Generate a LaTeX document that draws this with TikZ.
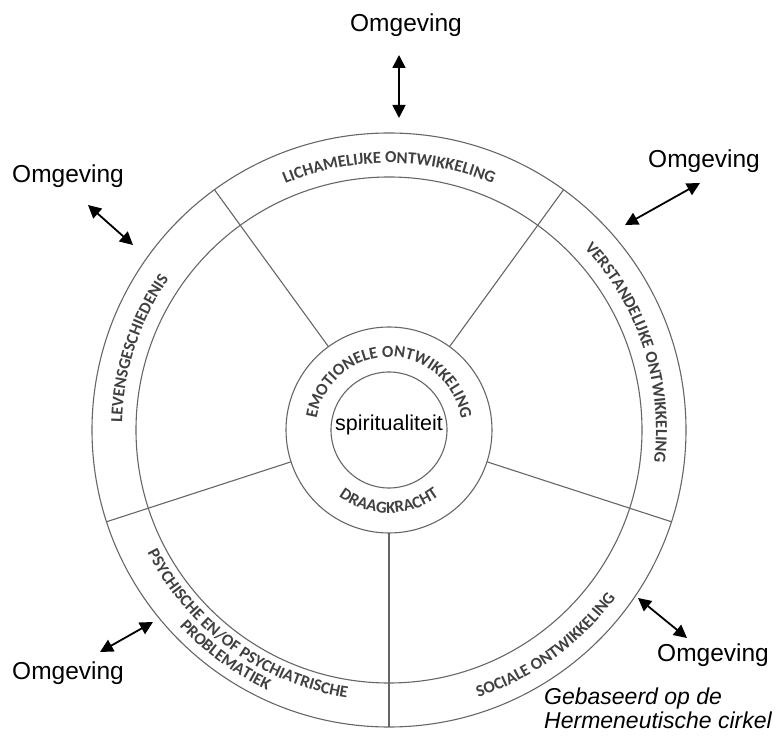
\documentclass[tikz,border=0pt]{standalone}
\usepackage{fontspec}
\setmainfont{Liberation Sans}
\newfontfamily\arcfamily{Carlito}
\usetikzlibrary{decorations.text, arrows.meta}
\newcommand\arcfmt{\arcfamily\bfseries\fontsize{16.8}{20}\selectfont}
\begin{document}
\begin{tikzpicture}[x=1pt,y=1pt,
  ring/.style={circle, draw=black!60, line width=1.1pt, inner sep=0pt, outer sep=0pt},
  spoke/.style={draw=black!60, line width=1.1pt},
  envarrow/.style={{Triangle[length=13pt,width=13pt]}-{Triangle[length=13pt,width=13pt]}, line width=1.8pt, black},
  envlabel/.style={font=\fontsize{24.5}{28}\selectfont, inner sep=0pt},
  notelabel/.style={font=\itshape\fontsize{23}{27}\selectfont, inner sep=0pt, anchor=base west}
]
\useasboundingbox (0,0) rectangle (780,737);
\coordinate (c) at (389,307);

% circles
\node[ring, minimum size=594pt] (outer) at (c) {};
\node[ring, minimum size=506pt] (band) at (c) {};
\node[ring, minimum size=206pt] (core) at (c) {};
\node[ring, minimum size=116pt] (spirit) at (c) {};
\node[anchor=base, inner sep=0pt, font=\fontsize{21.5}{25}\selectfont] (spirittext) at (389,306) {spiritualiteit};

% spokes
\foreach \a in {54,126,198,270,342}
  \draw[spoke] (core.\a) -- (outer.\a);

% outer band texts (tops outward)
\path[decorate, decoration={text along path, text align=center, text color=black!75,
  text={|\arcfmt|LICHAMELIJKE ONTWIKKELING}}]
  ([shift={(126:267pt)}]c) arc[start angle=126, end angle=54, radius=267pt];
\path[decorate, decoration={text along path, text align=center, text color=black!75,
  text={|\arcfmt|VERSTANDELIJKE ONTWIKKELING}}]
  ([shift={(54:267pt)}]c) arc[start angle=54, end angle=-18, radius=267pt];
\path[decorate, decoration={text along path, text align=center, text color=black!75,
  text={|\arcfmt|LEVENSGESCHIEDENIS}}]
  ([shift={(198:267pt)}]c) arc[start angle=198, end angle=126, radius=267pt];

% outer band texts (tops inward)
\path[decorate, decoration={text along path, text align=center, text color=black!75,
  text={|\arcfmt|SOCIALE ONTWIKKELING}}]
  ([shift={(270:282pt)}]c) arc[start angle=270, end angle=342, radius=282pt];
\path[decorate, decoration={text along path, text align=center, text color=black!75,
  text={|\arcfmt|PSYCHISCHE EN/OF PSYCHIATRISCHE}}]
  ([shift={(198:271pt)}]c) arc[start angle=198, end angle=270, radius=271pt];
\path[decorate, decoration={text along path, text align=center, text color=black!75,
  text={|\arcfmt|PROBLEMATIEK}}]
  ([shift={(198:287pt)}]c) arc[start angle=198, end angle=270, radius=287pt];

% core ring texts
\path[decorate, decoration={text along path, text align=center, text color=black!75,
  text={|\arcfmt|EMOTIONELE ONTWIKKELING}}]
  ([shift={(180:73pt)}]c) arc[start angle=180, end angle=0, radius=73pt];
\path[decorate, decoration={text along path, text align=center, text color=black!75,
  text={|\arcfmt|DRAAGKRACHT}}]
  ([shift={(200:83pt)}]c) arc[start angle=200, end angle=340, radius=83pt];

% Omgeving labels
\node[envlabel, anchor=base] (envtop) at (406,705) {Omgeving};
\node[envlabel, anchor=base west] (envul) at (12,554) {Omgeving};
\node[envlabel, anchor=base west] (envur) at (648,569) {Omgeving};
\node[envlabel, anchor=base west] (envll) at (12,57) {Omgeving};
\node[envlabel, anchor=base west] (envlr) at (657,75) {Omgeving};

% arrow end points
\coordinate (topA) at (399,682);
\coordinate (topB) at (399,619);
\coordinate (ulA) at (88,532);
\coordinate (ulB) at (133,492);
\coordinate (urA) at (700,554);
\coordinate (urB) at (625,512);
\coordinate (llA) at (100,85);
\coordinate (llB) at (153,115);
\coordinate (lrA) at (687,99);
\coordinate (lrB) at (638,139);

\draw[envarrow] (topA) -- (topB);
\draw[envarrow] (ulA) -- (ulB);
\draw[envarrow] (urA) -- (urB);
\draw[envarrow] (llA) -- (llB);
\draw[envarrow] (lrA) -- (lrB);

% note
\node[notelabel] (note1) at (544,32) {Gebaseerd op de};
\node[notelabel] (note2) at (544,8) {Hermeneutische cirkel};
\end{tikzpicture}
\end{document}
